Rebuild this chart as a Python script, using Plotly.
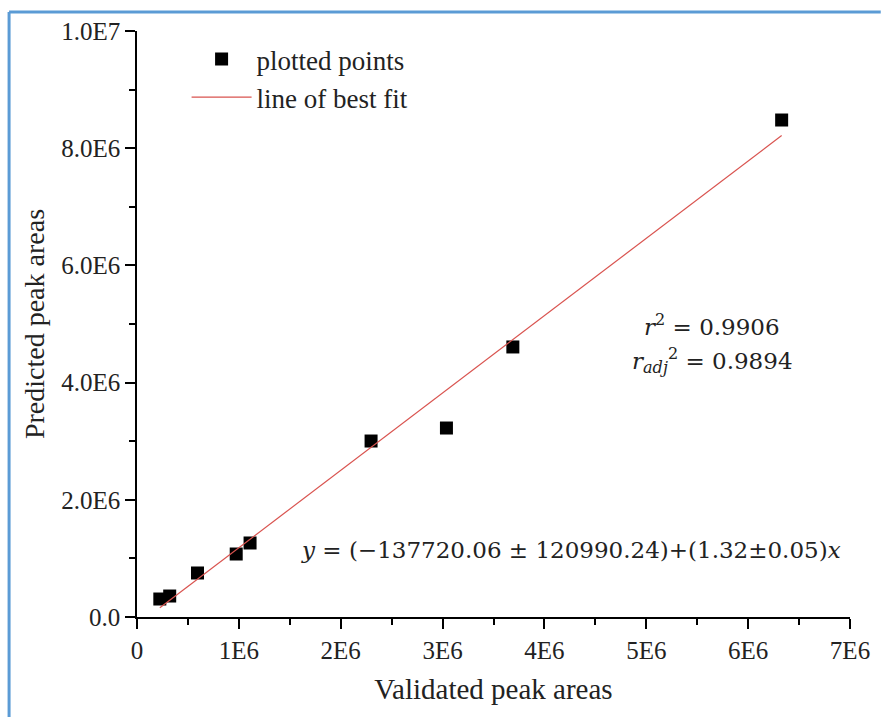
import plotly.graph_objects as go

# Data
validated = [0.224e6, 0.321e6, 0.594e6, 0.974e6, 1.110e6, 2.298e6, 3.038e6, 3.690e6, 6.329e6]
predicted = [0.307e6, 0.358e6, 0.751e6, 1.075e6, 1.263e6, 3.003e6, 3.225e6, 4.608e6, 8.481e6]

intercept = -137720.06
slope = 1.32

x_ticks = [0, 1e6, 2e6, 3e6, 4e6, 5e6, 6e6, 7e6]
x_tick_labels = ["0", "1E6", "2E6", "3E6", "4E6", "5E6", "6E6", "7E6"]
y_ticks = [0, 2e6, 4e6, 6e6, 8e6, 1e7]
y_tick_labels = ["0.0", "2.0E6", "4.0E6", "6.0E6", "8.0E6", "1.0E7"]

fit_x = [min(validated), max(validated)]
fit_y = [intercept + slope * v for v in fit_x]

FONT = "Liberation Serif, Times New Roman, serif"
MATH = "DejaVu Serif, serif"

fig = go.Figure()
fig.add_trace(go.Scatter(
    x=validated, y=predicted, mode="markers", name="plotted points",
    marker=dict(symbol="square", size=13, color="black"),
))
fig.add_trace(go.Scatter(
    x=fit_x, y=fit_y, mode="lines", name="line of best fit",
    line=dict(color="#d9534f", width=1.2),
))

axis_common = dict(
    showgrid=False, zeroline=False, showline=True, linecolor="black", linewidth=1.5,
    ticks="outside", ticklen=10, tickwidth=1.5, tickcolor="black",
    tickfont=dict(family=FONT, size=25, color="#222"),
    minor=dict(ticks="outside", ticklen=6, tickwidth=1.5, tickcolor="black"),
)

fig.update_xaxes(
    range=[0, 7e6], tickvals=x_ticks, ticktext=x_tick_labels,
    minor_dtick=5e5,
    title=dict(text="Validated peak areas", font=dict(family=FONT, size=29, color="#222"), standoff=16),
    **axis_common,
)
fig.update_yaxes(
    range=[0, 1e7], tickvals=y_ticks, ticktext=y_tick_labels,
    minor_dtick=1e6,
    title=dict(text="Predicted peak areas", font=dict(family=FONT, size=28, color="#222"), standoff=8),
    **axis_common,
)

L, R, T, B = 137, 26, 31, 100
W, H = 882, 717
pw, ph = W - L - R, H - T - B

def px(xp):
    return (xp - L) / pw

def py(yp):
    return (H - B - yp) / ph

shapes = [
    dict(type="line", xref="paper", yref="paper", x0=px(8), x1=px(8), y0=py(12), y1=py(H + 5),
         line=dict(color="#5b9bd5", width=3)),
    dict(type="line", xref="paper", yref="paper", x0=px(8), x1=px(W + 5), y0=py(12), y1=py(12),
         line=dict(color="#5b9bd5", width=3)),
]

annotations = [
    dict(xref="paper", yref="paper", x=px(717), y=py(325), xanchor="center", yanchor="middle",
         text="<i>r</i><sup>2</sup> = 0.9906", showarrow=False,
         font=dict(family=MATH, size=23, color="#222")),
    dict(xref="paper", yref="paper", x=px(717), y=py(360), xanchor="center", yanchor="middle",
         text="<i>r</i><sub><i>adj</i></sub><sup>2</sup> = 0.9894", showarrow=False,
         font=dict(family=MATH, size=23, color="#222")),
    dict(xref="paper", yref="paper", x=px(300), y=py(550), xanchor="left", yanchor="middle",
         text="<i>y</i> = (−137720.06 ± 120990.24)+(1.32±0.05)<i>x</i>", showarrow=False,
         font=dict(family=MATH, size=23, color="#222")),
]

fig.update_layout(
    width=W, height=H,
    margin=dict(l=L, r=R, t=T, b=B),
    paper_bgcolor="white", plot_bgcolor="white",
    showlegend=True,
    legend=dict(x=px(187), y=py(35), xanchor="left", yanchor="top",
                bgcolor="rgba(0,0,0,0)", font=dict(family=FONT, size=27, color="#222"),
                itemwidth=60, tracegroupgap=0),
    shapes=shapes,
    annotations=annotations,
)

fig.write_html("out.html")
